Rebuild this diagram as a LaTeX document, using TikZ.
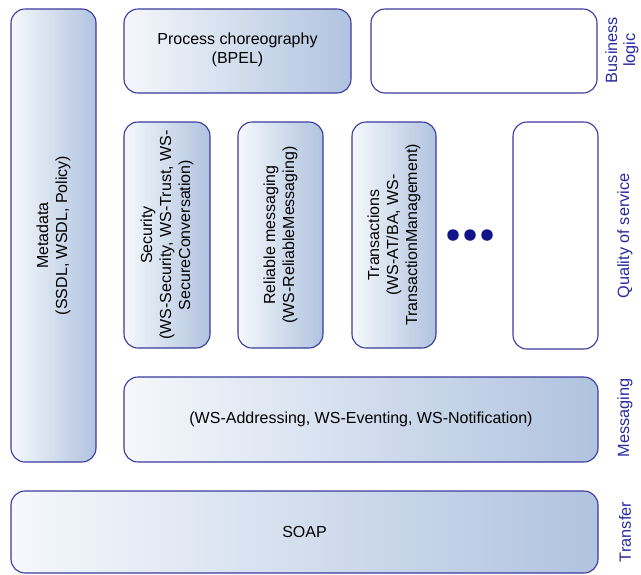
\documentclass[tikz,border=0pt]{standalone}
\usepackage{fontspec}
\setmainfont{Liberation Sans}
\definecolor{edge}{HTML}{3A3A9C}
\definecolor{lightfill}{HTML}{F5F8FC}
\definecolor{darkfill}{HTML}{B0C3DF}
\definecolor{layertext}{HTML}{2A2AA0}
\definecolor{dotblue}{HTML}{14148A}
\tikzset{
  x=1pt, y=-1pt,
  layerbox/.style={draw=edge, line width=1.1pt, rounded corners=14pt,
    left color=lightfill, right color=darkfill},
  emptybox/.style={draw=edge, line width=1.1pt, rounded corners=14pt, fill=white},
  boxtext/.style={font=\fontsize{16}{19}\selectfont, align=center, text=black},
  layerlabel/.style={font=\fontsize{16.3}{18}\selectfont, align=center, text=layertext, rotate=90},
  dot/.style={circle, fill=dotblue, inner sep=0pt, minimum size=11.5pt}
}
\begin{document}
\begin{tikzpicture}
\useasboundingbox (0,0) rectangle (641,574);

% boxes of the stack
\path[layerbox] (11,9) rectangle (96,462);
\node[boxtext, rotate=90] (meta) at (53.5,235.5) {Metadata\\(SSDL, WSDL, Policy)};

\path[layerbox] (124,9) rectangle (351,93);
\node[boxtext] (bpel) at (237.5,50) {Process choreography\\(BPEL)};

\path[emptybox] (371,9) rectangle (597,93);

\path[layerbox] (124,122) rectangle (210,348);
\node[boxtext, rotate=90] (sec) at (167,235) {Security\\(WS-Security, WS-Trust, WS-\\SecureConversation)};

\path[layerbox] (238,122) rectangle (323,348);
\node[boxtext, rotate=90] (rel) at (280.5,235) {Reliable messaging\\(WS-ReliableMessaging)};

\path[layerbox] (352,122) rectangle (436,348);
\node[boxtext, rotate=90] (trans) at (394,235) {Transactions\\(WS-AT/BA, WS-\\TransactionManagement)};

\node[dot] (d1) at (453,235) {};
\node[dot] (d2) at (470,235) {};
\node[dot] (d3) at (487,235) {};

\path[emptybox] (513,122) rectangle (598,349);

\path[layerbox] (124,377) rectangle (598,462);
\node[boxtext] (msg) at (361,419) {(WS-Addressing, WS-Eventing, WS-Notification)};

\path[layerbox] (11,491) rectangle (598,573);
\node[boxtext] (soap) at (304.5,532) {SOAP};

% layer names along the right side
\node[layerlabel] (lbiz) at (622,50) {Business\\logic};
\node[layerlabel] (lqos) at (625,236) {Quality of service};
\node[layerlabel] (lmsg) at (625,418) {Messaging};
\node[layerlabel] (ltra) at (625,532) {Transfer};
\end{tikzpicture}
\end{document}
